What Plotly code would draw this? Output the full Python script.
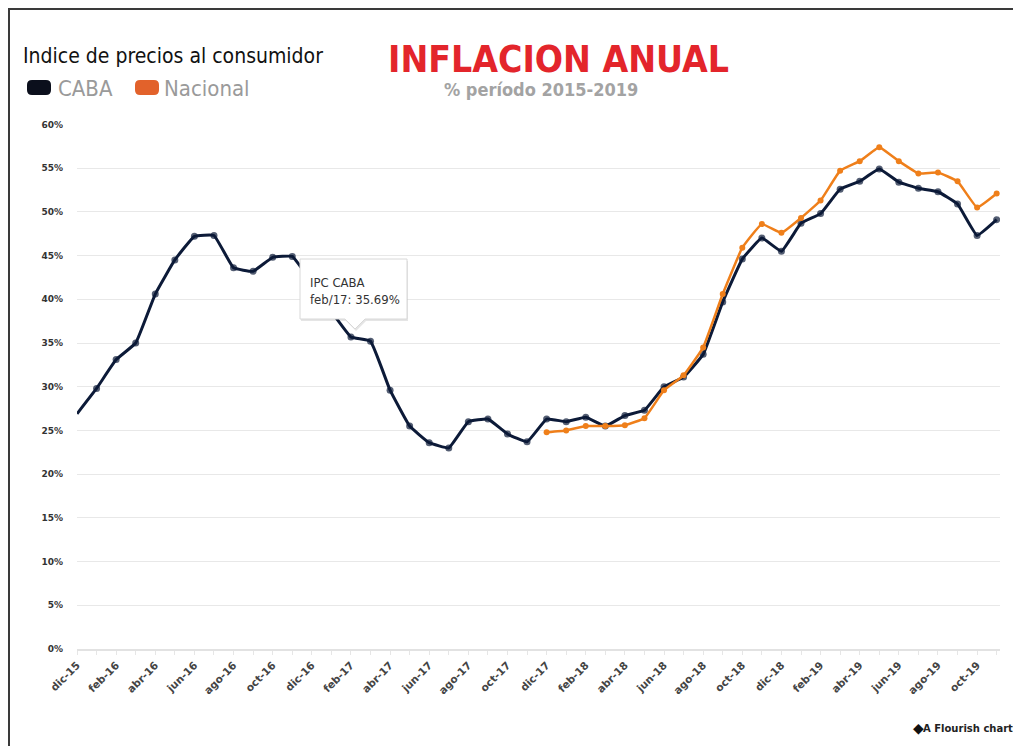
import plotly.graph_objects as go

# ---------------- data ----------------
months = ["dic-15", "ene-16", "feb-16", "mar-16", "abr-16", "may-16", "jun-16", "jul-16",
          "ago-16", "sep-16", "oct-16", "nov-16", "dic-16", "ene-17", "feb-17", "mar-17",
          "abr-17", "may-17", "jun-17", "jul-17", "ago-17", "sep-17", "oct-17", "nov-17",
          "dic-17", "ene-18", "feb-18", "mar-18", "abr-18", "may-18", "jun-18", "jul-18",
          "ago-18", "sep-18", "oct-18", "nov-18", "dic-18", "ene-19", "feb-19", "mar-19",
          "abr-19", "may-19", "jun-19", "jul-19", "ago-19", "sep-19", "oct-19", "nov-19"]

caba = [26.9, 29.8, 33.1, 35.0, 40.6, 44.5, 47.2, 47.3,
        43.6, 43.2, 44.8, 44.9, 41.9, 38.6, 35.69, 35.2,
        29.6, 25.5, 23.6, 23.0, 26.0, 26.3, 24.6, 23.7,
        26.3, 26.0, 26.5, 25.5, 26.7, 27.3, 30.0, 31.1,
        33.7, 39.7, 44.6, 47.0, 45.5, 48.7, 49.8, 52.6,
        53.5, 54.9, 53.4, 52.7, 52.3, 50.9, 47.3, 49.1]

nacional_months = months[24:]
nacional = [24.8, 25.0, 25.5, 25.5, 25.6, 26.4, 29.6, 31.3,
            34.5, 40.6, 45.9, 48.6, 47.6, 49.3, 51.3, 54.7,
            55.8, 57.4, 55.8, 54.4, 54.5, 53.5, 50.5, 52.1]

tick_labels = [m if i % 2 == 0 else "" for i, m in enumerate(months)]
y_ticks = list(range(0, 61, 5))

# ---------------- layout geometry ----------------
OFF = 8                      # page body margin offset
W, H = 1021 - OFF, 746 - OFF
PLOT_X0, PLOT_X1 = 77, 1000  # plot area in reference pixels
PLOT_Y0, PLOT_Y1 = 124, 649
L = PLOT_X0 - OFF
R = W - (PLOT_X1 - OFF)
T = PLOT_Y0 - OFF
B = H - (PLOT_Y1 - OFF)
PW = PLOT_X1 - PLOT_X0
PH = PLOT_Y1 - PLOT_Y0


def px(x):
    return (x - PLOT_X0) / PW


def py(y):
    return (PLOT_Y1 - y) / PH


NARROW = "Liberation Sans Narrow, DejaVu Sans Condensed, sans-serif"

CABA_COLOR = "#0c1a38"
NAC_COLOR = "#ef7f1a"

fig = go.Figure()

caba_sizes = [0] + [7] * (len(caba) - 1)
fig.add_trace(go.Scatter(
    x=months, y=caba, name="CABA", mode="lines+markers",
    line=dict(color=CABA_COLOR, width=3, shape="spline", smoothing=0.3),
    marker=dict(color=CABA_COLOR, size=caba_sizes, line=dict(width=0)),
    showlegend=False,
))
fig.add_trace(go.Scatter(
    x=nacional_months, y=nacional, name="Nacional", mode="lines+markers",
    line=dict(color=NAC_COLOR, width=2.5, shape="spline", smoothing=0.3),
    marker=dict(color=NAC_COLOR, size=6, line=dict(width=0)),
    showlegend=False,
))

shapes = []
# scan border (top + left)
shapes.append(dict(type="line", xref="paper", yref="paper",
                   x0=px(OFF), x1=px(1021), y0=py(9), y1=py(9),
                   line=dict(color="#3a3a3a", width=2)))
shapes.append(dict(type="line", xref="paper", yref="paper",
                   x0=px(9), x1=px(9), y0=py(9), y1=py(746),
                   line=dict(color="#3a3a3a", width=2)))


def rounded_rect(x0, y0, x1, y1, r):
    X0, X1 = px(x0), px(x1)
    Y0, Y1 = py(y0), py(y1)
    rx, ry = r / PW, r / PH
    return (f"M {X0+rx},{Y0} L {X1-rx},{Y0} Q {X1},{Y0} {X1},{Y0-ry} "
            f"L {X1},{Y1+ry} Q {X1},{Y1} {X1-rx},{Y1} L {X0+rx},{Y1} "
            f"Q {X0},{Y1} {X0},{Y1+ry} L {X0},{Y0-ry} Q {X0},{Y0} {X0+rx},{Y0} Z")


# legend swatches
shapes.append(dict(type="path", xref="paper", yref="paper",
                   path=rounded_rect(27, 80, 51, 95, 5),
                   fillcolor="#0b0f1c", line=dict(width=0)))
shapes.append(dict(type="path", xref="paper", yref="paper",
                   path=rounded_rect(135, 80, 159, 95, 5),
                   fillcolor="#e2622b", line=dict(width=0)))


def tooltip_path(x0, y0, x1, y1, tx, ty, hw, dx=0, dy=0):
    pts = [(x0, y0), (x1, y0), (x1, y1), (tx + hw, y1), (tx, ty), (tx - hw, y1), (x0, y1)]
    s = "M " + " L ".join(f"{px(a+dx)},{py(b+dy)}" for a, b in pts) + " Z"
    return s


# tooltip shadow + box
shapes.append(dict(type="path", xref="paper", yref="paper", layer="above",
                   path=tooltip_path(300, 259, 407, 319, 355, 329, 10, 1, 2),
                   fillcolor="rgba(0,0,0,0.10)", line=dict(width=0)))
shapes.append(dict(type="path", xref="paper", yref="paper", layer="above",
                   path=tooltip_path(300, 259, 407, 319, 355, 329, 10),
                   fillcolor="white", line=dict(color="#d8d8d8", width=1)))

annotations = [
    dict(text="Indice de precios al consumidor", x=px(21), y=py(56),
         xanchor="left", yanchor="middle",
         font=dict(family=NARROW, size=21, color="#111111")),
    dict(text="CABA", x=px(56), y=py(88), xanchor="left", yanchor="middle",
         font=dict(family=NARROW, size=22, color="#9a9a9a")),
    dict(text="Nacional", x=px(162), y=py(88), xanchor="left", yanchor="middle",
         font=dict(family=NARROW, size=22, color="#9a9a9a")),
    dict(text="INFLACION ANUAL", x=px(558), y=py(59), xanchor="center", yanchor="middle",
         font=dict(family=NARROW, size=37, color="#e3252b", weight="bold")),
    dict(text="% período 2015-2019", x=px(541), y=py(89), xanchor="center", yanchor="middle",
         font=dict(family=NARROW, size=18, color="#a3a3a3", weight="bold")),
    dict(text="IPC CABA<br>feb/17: 35.69%", x=px(308), y=py(291),
         xanchor="left", yanchor="middle", align="left",
         font=dict(family=NARROW, size=13, color="#333333")),
    dict(text="A Flourish chart", x=px(1015), y=py(728), xanchor="right", yanchor="middle",
         font=dict(family="DejaVu Sans, sans-serif", size=10, color="#222222", weight="bold")),
    dict(text="◆", x=px(918), y=py(728), xanchor="center", yanchor="middle",
         font=dict(family="DejaVu Sans, sans-serif", size=14, color="#111111")),
]
for a in annotations:
    a.update(xref="paper", yref="paper", showarrow=False)

fig.update_layout(
    width=W, height=H,
    margin=dict(l=L, r=R, t=T, b=B, pad=0),
    paper_bgcolor="white", plot_bgcolor="white",
    shapes=shapes, annotations=annotations,
    hovermode=False,
    xaxis=dict(
        type="category",
        range=[0, 47.17],
        tickmode="array", tickvals=months, ticktext=tick_labels,
        tickangle=-45,
        tickfont=dict(family="DejaVu Sans, sans-serif", size=10.5, color="#444444", weight="bold"),
        showgrid=False, zeroline=False,
        showline=True, linecolor="#e2e2e2", linewidth=2,
        ticks="outside", ticklen=4, tickcolor="#e6e6e6",
    ),
    yaxis=dict(
        range=[0, 60.05],
        tickmode="array", tickvals=y_ticks, ticktext=[f"{v}%" for v in y_ticks],
        tickfont=dict(family="DejaVu Sans, sans-serif", size=9, color="#333333", weight="bold"),
        showgrid=True, gridcolor="#e8e8e8", gridwidth=1,
        zeroline=False, showline=False,
        ticks="", ticklabelstandoff=13,
    ),
)

fig.write_html("out.html")
